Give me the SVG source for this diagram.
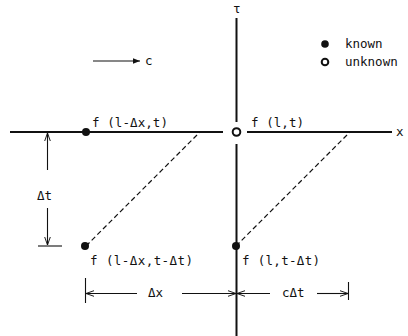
<svg xmlns="http://www.w3.org/2000/svg" width="408" height="336" viewBox="0 0 408 336">
<style>
text{font-family:"DejaVu Sans Mono","Liberation Mono",monospace;font-size:12.5px;fill:#111}
.ax{stroke:#111;stroke-width:2;fill:none}
.dash{stroke:#111;stroke-width:1.2;stroke-dasharray:5,3;fill:none}
.dim{stroke:#111;stroke-width:1.1;fill:none}
.known{fill:#111}
.unknown{fill:#fff;stroke:#111;stroke-width:2}
</style>
<defs>
<marker id="oa" viewBox="0 0 10 10" refX="10" refY="5" markerWidth="8" markerHeight="8" orient="auto-start-reverse" markerUnits="userSpaceOnUse">
<path d="M0,1.5 L10,5 L0,8.5 M3,5 L10,5" fill="none" stroke="#111" stroke-width="1.2"/>
</marker>
<marker id="fa" viewBox="0 0 10 10" refX="10" refY="5" markerWidth="9" markerHeight="7" orient="auto" markerUnits="userSpaceOnUse">
<path d="M0,1 L10,5 L0,9 Z" fill="#111"/>
</marker>
</defs>
<rect width="408" height="336" fill="#fff"/>
<g id="axes">
<line class="ax" x1="236.5" y1="18" x2="236.5" y2="122"/>
<line class="ax" x1="236.5" y1="144" x2="236.5" y2="336"/>
<line class="ax" x1="10" y1="132" x2="223" y2="132"/>
<line class="ax" x1="247" y1="132" x2="392" y2="132"/>
<text x="233" y="13" font-size="11">τ</text>
<text x="396" y="136">x</text>
</g>
<g id="connectors">
<line class="dash" x1="86" y1="246" x2="200" y2="132"/>
<line class="dash" x1="236" y1="246" x2="350" y2="132"/>
<line class="dim" x1="47.5" y1="170" x2="47.5" y2="133" marker-end="url(#oa)"/>
<line class="dim" x1="47.5" y1="208" x2="47.5" y2="245" marker-end="url(#oa)"/>
<line class="dim" x1="38" y1="246" x2="62" y2="246"/>
<line class="dim" x1="137" y1="293.5" x2="86" y2="293.5" marker-end="url(#oa)"/>
<line class="dim" x1="182" y1="293.5" x2="236" y2="293.5" marker-end="url(#oa)"/>
<line class="dim" x1="85.5" y1="278" x2="85.5" y2="303"/>
<line class="dim" x1="270" y1="293.5" x2="237" y2="293.5" marker-end="url(#oa)"/>
<line class="dim" x1="317" y1="293.5" x2="348" y2="293.5" marker-end="url(#oa)"/>
<line class="dim" x1="348.5" y1="282" x2="348.5" y2="300"/>
<line class="dim" x1="93" y1="61" x2="140" y2="61" marker-end="url(#fa)"/>
<text x="145" y="65">c</text>
<text x="37" y="200">Δt</text>
<text x="148" y="297">Δx</text>
<text x="282" y="297">cΔt</text>
</g>
<g id="node-f-l-dx-t">
<circle class="known" cx="86" cy="132" r="4"/>
<text x="92" y="127" textLength="76">f (l-Δx,t)</text>
</g>
<g id="node-f-l-t">
<circle class="unknown" cx="236.5" cy="132" r="3.8"/>
<text x="251" y="127" textLength="53">f (l,t)</text>
</g>
<g id="node-f-l-dx-t-dt">
<circle class="known" cx="85" cy="246" r="4"/>
<text x="90" y="265" textLength="103">f (l-Δx,t-Δt)</text>
</g>
<g id="node-f-l-t-dt">
<circle class="known" cx="236" cy="246" r="4"/>
<text x="242" y="265" textLength="78">f (l,t-Δt)</text>
</g>
<g id="legend">
<circle class="known" cx="325" cy="44" r="3.8"/>
<text x="345" y="48">known</text>
<circle class="unknown" cx="325" cy="62" r="3.3"/>
<text x="345" y="66">unknown</text>
</g>
</svg>
